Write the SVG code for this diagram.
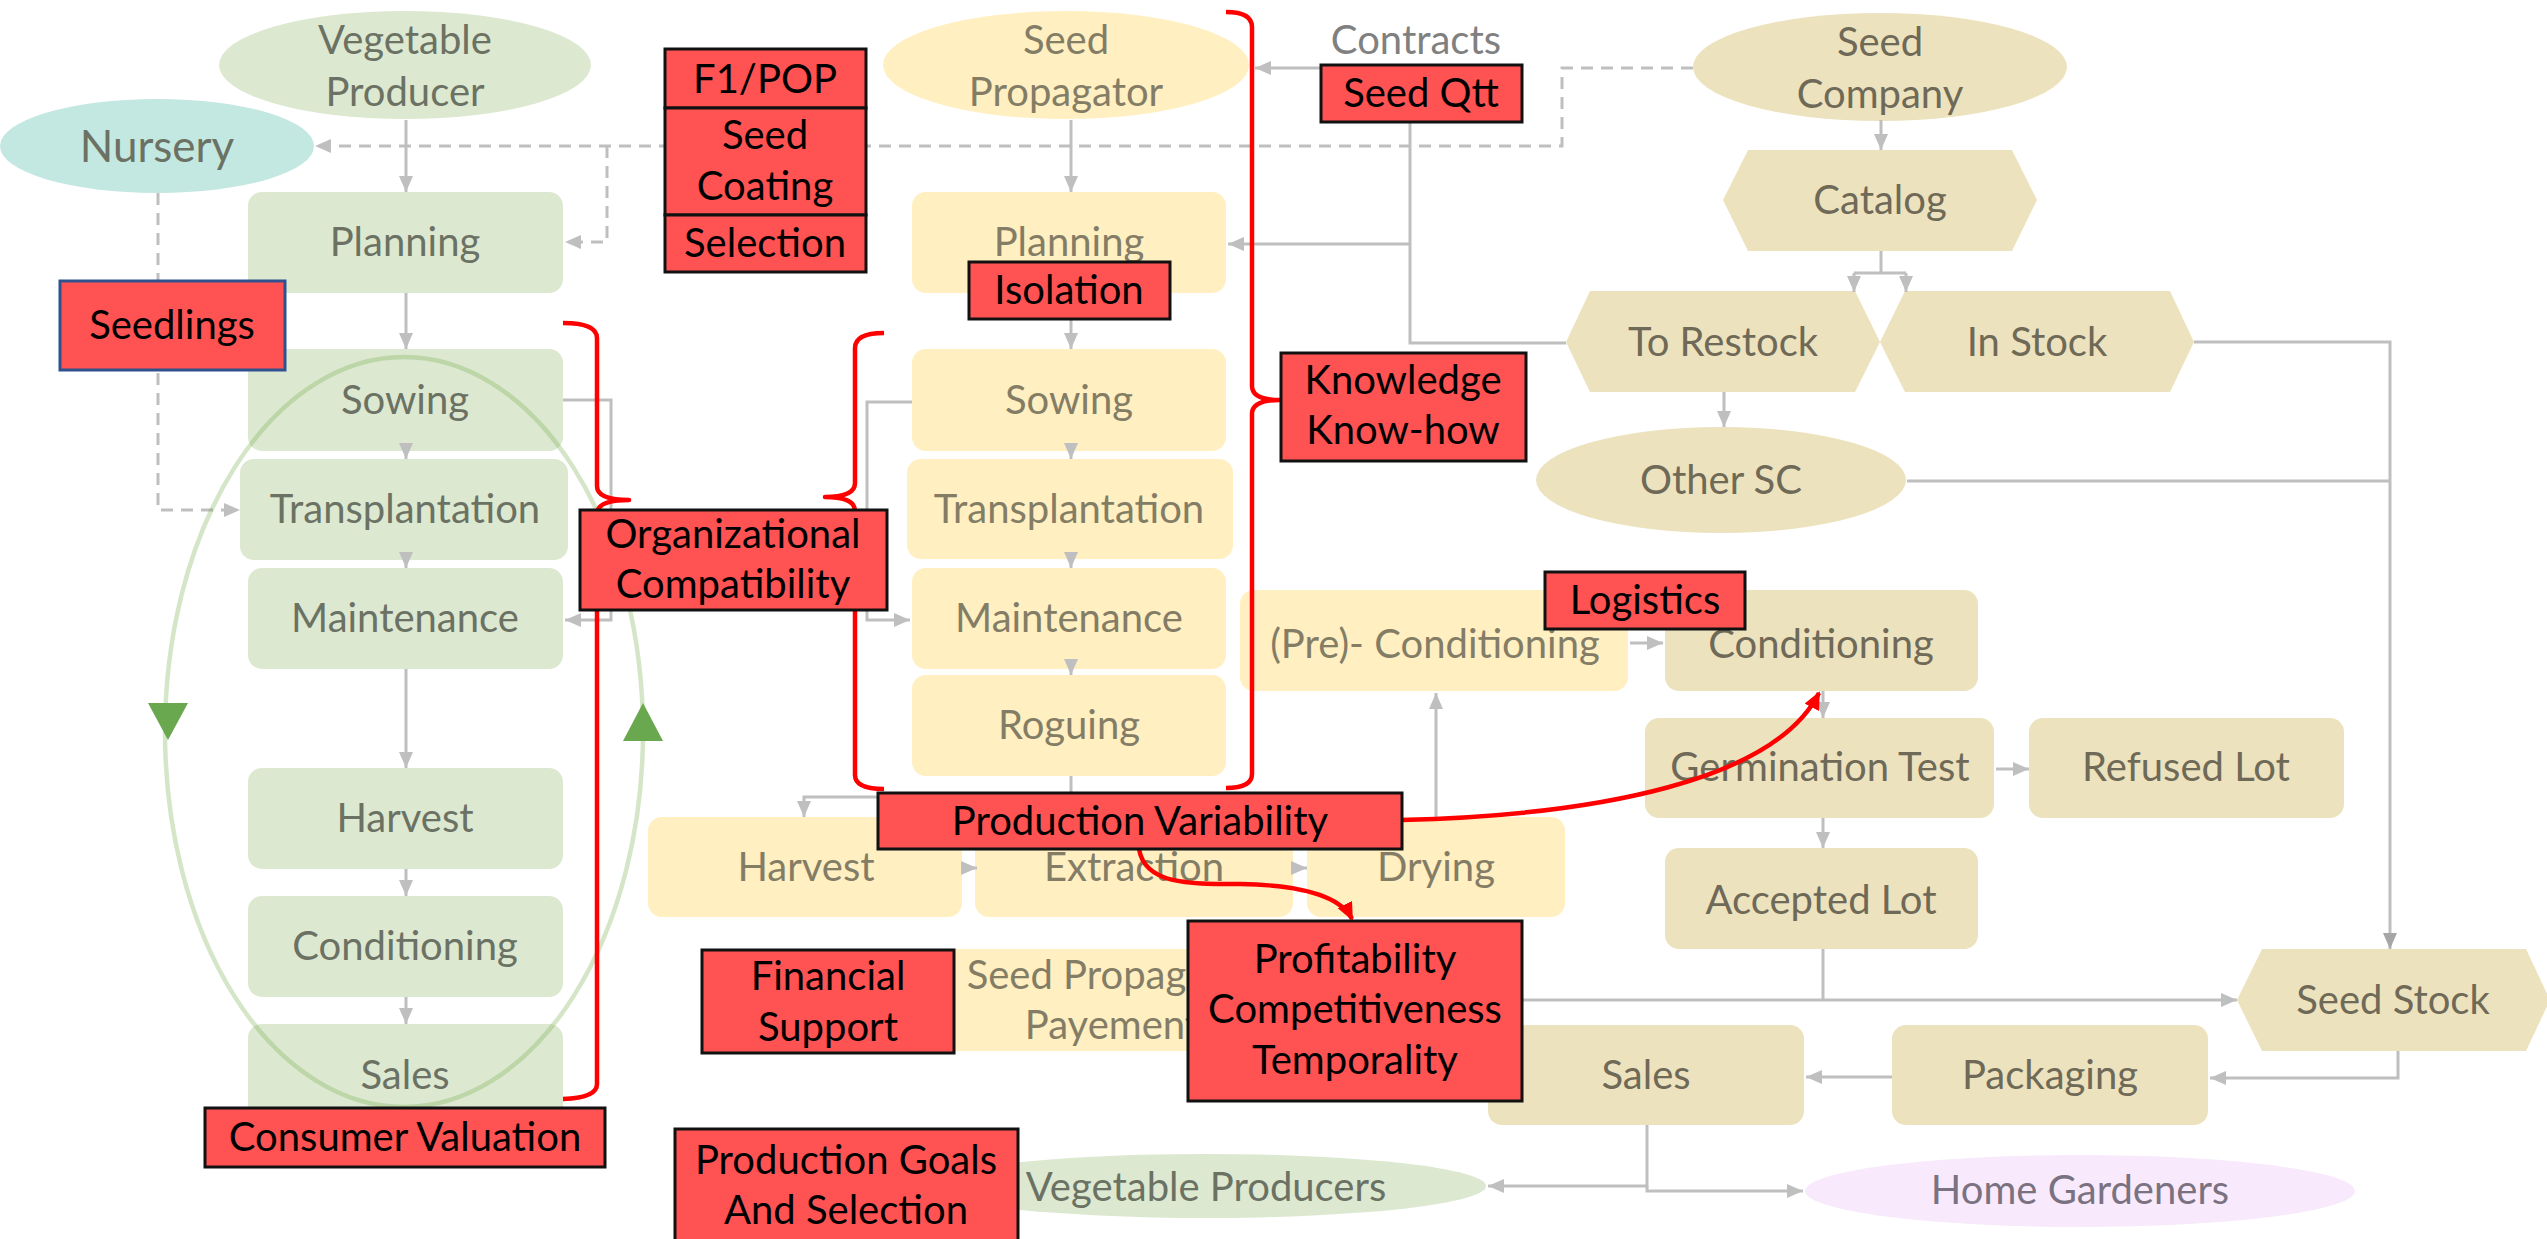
<svg xmlns="http://www.w3.org/2000/svg" width="2547" height="1239" viewBox="0 0 2547 1239">
  <style>
    text { font-family: Lato, "Liberation Sans", sans-serif; font-size: 40px; text-anchor: middle; }
    .g { fill: #DDE8D1; }
    .y { fill: #FFEFC1; }
    .t { fill: #EDE2BE; }
    .tg { fill: #6B7263; }
    .ty { fill: #847D66; }
    .tt { fill: #6F6957; }
    .tr { fill: #000000; }
    .red { fill: #FF5252; stroke: #111111; stroke-width: 3; }
    .con { fill: none; stroke: #BFBFBF; stroke-width: 3; }
    .dash { fill: none; stroke: #BFBFBF; stroke-width: 3; stroke-dasharray: 12 8; }
    .brace { fill: none; stroke: #FF0000; stroke-width: 4.5; stroke-linejoin: round; }
    .rarrow { fill: none; stroke: #FF0000; stroke-width: 4.5; }
  </style>
  <defs>
    <marker id="ah" markerWidth="16" markerHeight="14" refX="16" refY="7" orient="auto" markerUnits="userSpaceOnUse">
      <path d="M0,0 L16,7 L0,14 z" fill="#BFBFBF"/>
    </marker>
    <marker id="ahd" markerWidth="16" markerHeight="14" refX="16" refY="7" orient="auto" markerUnits="userSpaceOnUse">
      <path d="M0,0 L16,7 L0,14 z" fill="#A6A6A6"/>
    </marker>
    <marker id="ahr" markerWidth="18" markerHeight="16" refX="16" refY="8" orient="auto" markerUnits="userSpaceOnUse">
      <path d="M0,0 L18,8 L0,16 z" fill="#FF0000"/>
    </marker>
  </defs>

  <rect width="2547" height="1239" fill="#FFFFFF"/>

  <!-- Vegetable producer column (green) -->
  <g id="vegetable-producer"><ellipse class="g" cx="405" cy="65" rx="186" ry="54"/><text class="tg" x="405" y="54">Vegetable</text><text class="tg" x="405" y="106">Producer</text></g>
  <g id="nursery"><ellipse cx="157" cy="146" rx="157" ry="47" fill="#C3E7E1"/><text class="tg" x="157" y="162" style="font-size:44px">Nursery</text></g>
  <g id="vp-planning"><rect class="g" x="248" y="192" width="315" height="101" rx="14"/><text class="tg" x="405" y="256">Planning</text></g>
  <g id="vp-sowing"><rect class="g" x="248" y="349" width="315" height="102" rx="14"/><text class="tg" x="405" y="414">Sowing</text></g>
  <g id="vp-transplantation"><rect class="g" x="240" y="459" width="328" height="101" rx="14"/><text class="tg" x="405" y="523">Transplantation</text></g>
  <g id="vp-maintenance"><rect class="g" x="248" y="568" width="315" height="101" rx="14"/><text class="tg" x="405" y="632">Maintenance</text></g>
  <g id="vp-harvest"><rect class="g" x="248" y="768" width="315" height="101" rx="14"/><text class="tg" x="405" y="832">Harvest</text></g>
  <g id="vp-conditioning"><rect class="g" x="248" y="896" width="315" height="101" rx="14"/><text class="tg" x="405" y="960">Conditioning</text></g>
  <g id="vp-sales"><rect class="g" x="248" y="1024" width="315" height="102" rx="14"/><text class="tg" x="405" y="1089">Sales</text></g>

  <!-- Seed propagator column (yellow) -->
  <g id="seed-propagator"><ellipse class="y" cx="1066" cy="65" rx="183" ry="54"/><text class="ty" x="1066" y="54">Seed</text><text class="ty" x="1066" y="106">Propagator</text></g>
  <g id="sp-planning"><rect class="y" x="912" y="192" width="314" height="101" rx="14"/><text class="ty" x="1069" y="256">Planning</text></g>
  <g id="sp-sowing"><rect class="y" x="912" y="349" width="314" height="102" rx="14"/><text class="ty" x="1069" y="414">Sowing</text></g>
  <g id="sp-transplantation"><rect class="y" x="907" y="459" width="326" height="100" rx="14"/><text class="ty" x="1069" y="523">Transplantation</text></g>
  <g id="sp-maintenance"><rect class="y" x="912" y="568" width="314" height="101" rx="14"/><text class="ty" x="1069" y="632">Maintenance</text></g>
  <g id="sp-roguing"><rect class="y" x="912" y="675" width="314" height="101" rx="14"/><text class="ty" x="1069" y="739">Roguing</text></g>
  <g id="sp-harvest"><rect class="y" x="648" y="817" width="314" height="100" rx="14"/><text class="ty" x="806" y="881">Harvest</text></g>
  <g id="sp-extraction"><rect class="y" x="975" y="817" width="318" height="100" rx="14"/><text class="ty" x="1134" y="881">Extraction</text></g>
  <g id="sp-drying"><rect class="y" x="1307" y="817" width="258" height="100" rx="14"/><text class="ty" x="1436" y="881">Drying</text></g>
  <g id="sp-preconditioning"><rect class="y" x="1240" y="590" width="388" height="101" rx="14"/><text class="ty" x="1435" y="658">(Pre)- Conditioning</text></g>
  <g id="sp-payement"><rect class="y" x="930" y="949" width="340" height="102" rx="14"/><text class="ty" x="1112" y="989">Seed Propagator</text><text class="ty" x="1112" y="1039">Payement</text></g>

  <!-- Seed company column (tan) -->
  <g id="seed-company"><ellipse class="t" cx="1880" cy="67" rx="187" ry="54"/><text class="tt" x="1880" y="56">Seed</text><text class="tt" x="1880" y="108">Company</text></g>
  <g id="catalog"><polygon class="t" points="1723,200 1748,150 2012,150 2037,200 2012,251 1748,251"/><text class="tt" x="1880" y="214">Catalog</text></g>
  <g id="to-restock"><polygon class="t" points="1566,342 1590,291 1855,291 1880,342 1855,392 1590,392"/><text class="tt" x="1723" y="356">To Restock</text></g>
  <g id="in-stock"><polygon class="t" points="1880,342 1905,291 2170,291 2194,342 2170,392 1905,392"/><text class="tt" x="2037" y="356">In Stock</text></g>
  <g id="other-sc"><ellipse class="t" cx="1721" cy="480" rx="185" ry="53"/><text class="tt" x="1721" y="494">Other SC</text></g>
  <g id="sc-conditioning"><rect class="t" x="1665" y="590" width="313" height="101" rx="14"/><text class="tt" x="1821" y="658">Conditioning</text></g>
  <g id="germination-test"><rect class="t" x="1645" y="718" width="349" height="100" rx="14"/><text class="tt" x="1820" y="781">Germination Test</text></g>
  <g id="refused-lot"><rect class="t" x="2029" y="718" width="315" height="100" rx="14"/><text class="tt" x="2186" y="781">Refused Lot</text></g>
  <g id="accepted-lot"><rect class="t" x="1665" y="848" width="313" height="101" rx="14"/><text class="tt" x="1821" y="914">Accepted Lot</text></g>
  <g id="seed-stock"><polygon class="t" points="2237,1000 2262,949 2526,949 2550,1000 2526,1051 2262,1051"/><text class="tt" x="2393" y="1014">Seed Stock</text></g>
  <g id="packaging"><rect class="t" x="1892" y="1025" width="316" height="100" rx="14"/><text class="tt" x="2050" y="1089">Packaging</text></g>
  <g id="sc-sales"><rect class="t" x="1488" y="1025" width="316" height="100" rx="14"/><text class="tt" x="1646" y="1089">Sales</text></g>
  <g id="vegetable-producers"><ellipse class="g" cx="1206" cy="1186" rx="280" ry="32"/><text class="tg" x="1206" y="1201">Vegetable Producers</text></g>
  <g id="home-gardeners"><ellipse cx="2080" cy="1191" rx="275" ry="36" fill="#F8EAFC"/><text x="2080" y="1204" fill="#7B7281">Home Gardeners</text></g>
  <g id="contracts"><text x="1416" y="54" fill="#808080">Contracts</text></g>

  <!-- Connectors -->
  <g id="connectors">
    <path class="dash" d="M1693,68 L1562,68 L1562,146 L315,146" marker-end="url(#ah)"/>
    <path class="dash" d="M607,146 L607,242 L565,242" marker-end="url(#ah)"/>
    <path class="dash" d="M158,193 L158,510 L240,510" marker-end="url(#ah)"/>

    <path class="con" d="M406,120 L406,192" marker-end="url(#ah)"/>
    <path class="con" d="M406,293 L406,349" marker-end="url(#ah)"/>
    <path class="con" d="M406,443 L406,459" marker-end="url(#ah)"/>
    <path class="con" d="M406,552 L406,568" marker-end="url(#ah)"/>
    <path class="con" d="M406,669 L406,768" marker-end="url(#ah)"/>
    <path class="con" d="M406,869 L406,896" marker-end="url(#ah)"/>
    <path class="con" d="M406,997 L406,1024" marker-end="url(#ah)"/>
    <path class="con" d="M563,400 L611,400 L611,620 L565,620" marker-end="url(#ah)"/>

    <path class="con" d="M1071,120 L1071,192" marker-end="url(#ah)"/>
    <path class="con" d="M1071,319 L1071,349" marker-end="url(#ah)"/>
    <path class="con" d="M1071,443 L1071,459" marker-end="url(#ah)"/>
    <path class="con" d="M1071,552 L1071,568" marker-end="url(#ah)"/>
    <path class="con" d="M1071,659 L1071,675" marker-end="url(#ah)"/>
    <path class="con" d="M1071,776 L1071,797 L804,797 L804,817" marker-end="url(#ah)"/>
    <path class="con" d="M912,402 L867,402 L867,620 L910,620" marker-end="url(#ah)"/>
    <path class="con" d="M961,868 L977,868" marker-end="url(#ah)"/>
    <path class="con" d="M1291,868 L1307,868" marker-end="url(#ah)"/>
    <path class="con" d="M1436,817 L1436,693" marker-end="url(#ah)"/>
    <path class="con" d="M1630,643 L1663,643" marker-end="url(#ah)"/>
    <path class="con" d="M1823,691 L1823,718" marker-end="url(#ah)"/>
    <path class="con" d="M1996,769 L2029,769" marker-end="url(#ah)"/>
    <path class="con" d="M1823,818 L1823,848" marker-end="url(#ah)"/>
    <path class="con" d="M1823,949 L1823,1000"/>
    <path class="con" d="M1522,1000 L2237,1000" marker-end="url(#ah)"/>

    <path class="con" d="M1321,68 L1255,68" marker-end="url(#ah)"/>
    <path class="con" d="M1410,122 L1410,343 L1566,343"/>
    <path class="con" d="M1410,244 L1228,244" marker-end="url(#ah)"/>

    <path class="con" d="M1881,120 L1881,150" marker-end="url(#ah)"/>
    <path class="con" d="M1881,251 L1881,273 M1854,273 L1906,273"/>
    <path class="con" d="M1854,273 L1854,292" marker-end="url(#ah)"/>
    <path class="con" d="M1906,273 L1906,292" marker-end="url(#ah)"/>
    <path class="con" d="M1724,392 L1724,427" marker-end="url(#ah)"/>
    <path class="con" d="M2194,342 L2390,342 L2390,949" stroke="#A6A6A6" marker-end="url(#ahd)"/>
    <path class="con" d="M1907,481 L2390,481"/>
    <path class="con" d="M2398,1051 L2398,1078 L2210,1078" marker-end="url(#ah)"/>
    <path class="con" d="M1892,1077 L1806,1077" marker-end="url(#ah)"/>
    <path class="con" d="M1647,1125 L1647,1186 L1488,1186" marker-end="url(#ah)"/>
    <path class="con" d="M1647,1186 L1647,1191 L1803,1191" marker-end="url(#ah)"/>

    <!-- production cycle of the vegetable producer -->
    <ellipse cx="404" cy="732" rx="239" ry="375" fill="none" stroke="#70AD47" stroke-opacity="0.3" stroke-width="4.5"/>
    <polygon points="148,703 188,703 168,740" fill="#6AA84F"/>
    <polygon points="623,741 663,741 643,703" fill="#6AA84F"/>

    <!-- red braces -->
    <path class="brace" d="M563,323 Q597,323 597,338 L597,486 Q597,500 629,500 Q597,500 597,514 L597,1084 Q597,1098 563,1099"/>
    <path class="brace" d="M884,333 Q855,333 855,348 L855,483 Q855,497 825,497 Q855,497 855,511 L855,775 Q855,789 884,789"/>
    <path class="brace" d="M1226,12 Q1252,12 1252,27 L1252,386 Q1252,400 1280,400 Q1252,400 1252,414 L1252,774 Q1252,788 1226,788"/>

    <!-- red influence arrows -->
    <path class="rarrow" d="M1139,849 C1145,885 1190,884 1240,884 C1300,885 1340,895 1352,919" marker-end="url(#ahr)"/>
    <path class="rarrow" d="M1402,820 C1600,815 1775,780 1819,693" marker-end="url(#ahr)"/>
  </g>

  <!-- Factor labels -->
  <g id="f1-pop"><rect class="red" x="665" y="49" width="201" height="59"/><text class="tr" x="765" y="93">F1/POP</text></g>
  <g id="seed-coating"><rect class="red" x="665" y="108" width="201" height="107"/><text class="tr" x="765" y="149">Seed</text><text class="tr" x="765" y="200">Coating</text></g>
  <g id="selection"><rect class="red" x="665" y="215" width="201" height="57"/><text class="tr" x="765" y="257">Selection</text></g>
  <g id="seedlings"><rect x="60" y="281" width="225" height="89" fill="#FF5252" stroke="#2F528F" stroke-width="3"/><text class="tr" x="172" y="339">Seedlings</text></g>
  <g id="seed-qtt"><rect class="red" x="1321" y="65" width="201" height="57"/><text class="tr" x="1421" y="107">Seed Qtt</text></g>
  <g id="isolation"><rect class="red" x="969" y="262" width="201" height="57"/><text class="tr" x="1069" y="304">Isolation</text></g>
  <g id="knowledge"><rect class="red" x="1281" y="353" width="245" height="108"/><text class="tr" x="1403" y="394">Knowledge</text><text class="tr" x="1403" y="444">Know-how</text></g>
  <g id="organizational-compatibility"><rect class="red" x="580" y="510" width="307" height="100"/><text class="tr" x="733" y="548">Organizational</text><text class="tr" x="733" y="598">Compatibility</text></g>
  <g id="logistics"><rect class="red" x="1545" y="572" width="200" height="57"/><text class="tr" x="1645" y="614">Logistics</text></g>
  <g id="production-variability"><rect class="red" x="878" y="793" width="524" height="56"/><text class="tr" x="1140" y="835">Production Variability</text></g>
  <g id="consumer-valuation"><rect class="red" x="205" y="1108" width="400" height="59"/><text class="tr" x="405" y="1151">Consumer Valuation</text></g>
  <g id="financial-support"><rect class="red" x="702" y="950" width="252" height="103"/><text class="tr" x="828" y="990">Financial</text><text class="tr" x="828" y="1041">Support</text></g>
  <g id="profitability"><rect class="red" x="1188" y="921" width="334" height="180"/><text class="tr" x="1355" y="973">Profitability</text><text class="tr" x="1355" y="1023">Competitiveness</text><text class="tr" x="1355" y="1074">Temporality</text></g>
  <g id="production-goals"><rect class="red" x="675" y="1129" width="343" height="114"/><text class="tr" x="846" y="1174">Production Goals</text><text class="tr" x="846" y="1224">And Selection</text></g>
</svg>
